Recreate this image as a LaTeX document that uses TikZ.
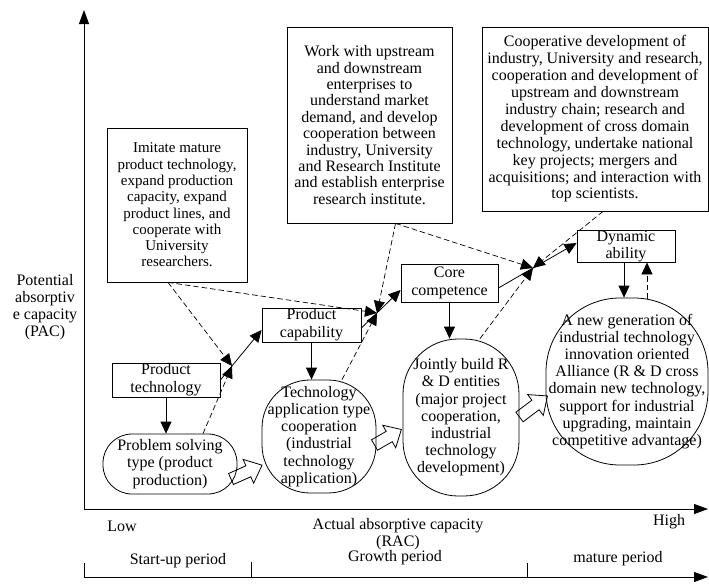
\documentclass[tikz,border=0pt]{standalone}
\usepackage{fontspec}
\setmainfont{Liberation Serif}
\usetikzlibrary{arrows.meta,calc}
\begin{document}
\begin{tikzpicture}[x=1pt,y=-1pt,
  every node/.style={font=\fontsize{16}{17}\selectfont, inner sep=0pt, align=center},
  box/.style={draw, rectangle, line width=0.8pt},
  rbox/.style={draw, rectangle, line width=0.8pt},
  sarrow/.style={line width=0.8pt, -{Triangle[length=12pt,width=11pt]}},
  darrow/.style={line width=0.7pt, dash pattern=on 5.5pt off 3pt, -{Triangle[length=12pt,width=11pt]}},
  axis/.style={line width=1pt, -{Triangle[length=14pt,width=10pt]}},
  tick/.style={line width=1pt},
  hollow/.style={draw, line width=0.8pt, line join=miter}
]
\useasboundingbox (0,0) rectangle (709,584);

% axes
\coordinate (O) at (84,509);
\coordinate (ytop) at (84,10);
\coordinate (xend) at (708,509);
\draw[axis] (O) -- (ytop);
\draw[axis] (O) -- (xend);
\coordinate (p0) at (84,577);
\coordinate (pend) at (708,577);
\draw[axis] (p0) -- (pend);
\coordinate (t0) at (84,563);
\coordinate (t1a) at (251,562); \coordinate (t1b) at (251,577);
\coordinate (t2a) at (527,563); \coordinate (t2b) at (527,577);
\draw[tick] (t0) -- (p0);
\draw[tick] (t1a) -- (t1b);
\draw[tick] (t2a) -- (t2b);

% labels
\node (pac) at (45,307.5) {Potential\\absorptiv\\e capacity\\(PAC)};
\node (low) at (122,526) {Low};
\node (rac) at (398,534.5) {Actual absorptive capacity\\(RAC)};
\node (high) at (669,522) {High};
\node (su) at (178,561) {Start-up period};
\node (gp) at (395,558) {Growth period};
\node (mp) at (618,559) {mature period};

% text boxes
\node[box, font=\fontsize{15}{16.3}\selectfont, minimum width=140pt, minimum height=154pt] (imit) at (177,205) {Imitate mature\\product technology,\\expand production\\capacity, expand\\product lines, and\\cooperate with\\University\\researchers.};
\node[box, font=\fontsize{16}{16.4}\selectfont, minimum width=165pt, minimum height=196pt] (work) at (369.5,125) {Work with upstream\\and downstream\\enterprises to\\understand market\\demand, and develop\\cooperation between\\industry, University\\and Research Institute\\and establish enterprise\\research institute.};
\node[box, font=\fontsize{16}{16.9}\selectfont, minimum width=226pt, minimum height=184pt] (coop) at (595,119) {Cooperative development of\\industry, University and research,\\cooperation and development of\\upstream and downstream\\industry chain; research and\\development of cross domain\\technology, undertake national\\key projects; mergers and\\acquisitions; and interaction with\\top scientists.};

% capability boxes
\node[box, font=\fontsize{16}{18}\selectfont, minimum width=108pt, minimum height=34pt] (pt) at (166,380) {Product\\technology};
\node[box, font=\fontsize{16}{18}\selectfont, minimum width=99pt, minimum height=34pt] (pc) at (311.5,325) {Product\\capability};
\node[box, font=\fontsize{16}{18}\selectfont, minimum width=97pt, minimum height=38pt] (core) at (449.5,283) {Core\\competence};
\node[box, font=\fontsize{16}{17}\selectfont, minimum width=98pt, minimum height=32pt] (dyn) at (626,246) {Dynamic\\ability};

% rounded boxes
\node[rbox, rounded corners=29pt, minimum width=134pt, minimum height=60pt, font=\fontsize{16}{17.5}\selectfont] (ps) at (170,464) {Problem solving\\type (product\\production)};
\node[rbox, rounded corners=48pt, minimum width=114pt, minimum height=113pt, font=\fontsize{16}{17.2}\selectfont] (tech) at (319,436.5) {Technology\\application type\\cooperation\\(industrial\\technology\\application)};
\node[rbox, rounded corners=55pt, minimum width=116pt, minimum height=157pt, font=\fontsize{16}{17.2}\selectfont] (joint) at (461,417.5) {Jointly build R\\\& D entities\\(major project\\cooperation,\\industrial\\technology\\development)};
\node[rbox, rounded corners=74pt, minimum width=162pt, minimum height=167pt, font=\fontsize{16}{17.1}\selectfont] (newg) at (627,381.5) {A new generation of\\industrial technology\\innovation oriented\\Alliance (R \& D cross\\domain new technology,\\support for industrial\\upgrading, maintain\\competitive advantage)};

% crossing points
\coordinate (c1) at (232,366);
\coordinate (c2) at (377,313);
\coordinate (c3) at (533,268);

% stage 1
\draw[sarrow] (pt.east) -- ($(pc.west)+(0,5)$);
\draw[darrow] ($(imit.south)+(-9,0)$) -- (c1);
\draw[darrow] ($(imit.south)+(-9,0)$) -- (c2);
\draw[darrow] ($(ps.north)+(33,0)$) -- (c1);
% stage 2
\draw[sarrow] ($(pc.east)+(0,3)$) -- ($(core.west)+(0,7)$);
\draw[darrow] ($(work.south)+(26,0)$) -- (c2);
\draw[darrow] ($(work.south)+(26,0)$) -- (c3);
\draw[darrow] ($(tech.north)+(23,0)$) -- (c2);
% stage 3
\draw[sarrow] ($(core.east)+(0,5)$) -- ($(dyn.west)+(0,-3)$);
\draw[darrow] ($(coop.south)+(8,0)$) -- (c3);
\draw[darrow] ($(joint.north)+(19,0)$) -- (c3);

% vertical arrows
\draw[sarrow] (pt.south) -- (pt.south |- ps.north);
\draw[sarrow] (pc.south) -- (pc.south |- tech.north);
\draw[sarrow] (core.south) -- (core.south |- joint.north);
\draw[sarrow] ($(dyn.south)+(-2,0)$) -- ($(dyn.south |- newg.north)+(-2,0)$);
\draw[darrow] ($(newg.north)+(20,1)$) -- ($(dyn.south)+(21,0)$);

% hollow block arrows
\begin{scope}[shift={(231,479)}, rotate=24]
  \draw[hollow] (0,-6) -- (19,-6) -- (19,-13) -- (34,0) -- (19,13) -- (19,6) -- (0,6) -- cycle;
\end{scope}
\begin{scope}[shift={(374.5,445)}, rotate=30]
  \draw[hollow] (0,-6) -- (17,-6) -- (17,-13) -- (31,0) -- (17,13) -- (17,6) -- (0,6) -- cycle;
\end{scope}
\begin{scope}[shift={(519.5,417)}, rotate=37]
  \draw[hollow] (0,-6) -- (20,-6) -- (20,-13) -- (35,0) -- (20,13) -- (20,6) -- (0,6) -- cycle;
\end{scope}
\end{tikzpicture}
\end{document}
